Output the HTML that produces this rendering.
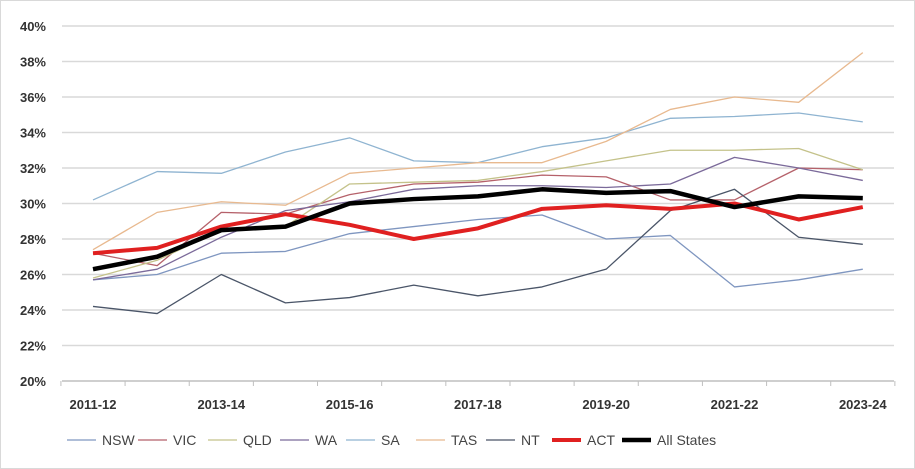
<!DOCTYPE html>
<html><head><meta charset="utf-8"><style>
body{margin:0;background:#fff;}
svg{display:block;font-family:"Liberation Sans",sans-serif;}
</style></head><body>
<svg id="chart" width="915" height="469" viewBox="0 0 915 469">
<rect x="0.5" y="0.5" width="914" height="468" fill="#fff" stroke="#d9d9d9"/>
<g id="grid"></g><g id="axes"></g><g id="series"></g><g id="legend"></g>
</svg>
<script>
const categories=["2011-12","2012-13","2013-14","2014-15","2015-16","2016-17","2017-18","2018-19","2019-20","2020-21","2021-22","2022-23","2023-24"];
const yTicks=[20,22,24,26,28,30,32,34,36,38,40];
const nsw=[25.7,26.0,27.2,27.3,28.3,28.7,29.1,29.35,28.0,28.2,25.3,25.7,26.3];
const vic=[27.2,26.5,29.5,29.4,30.5,31.1,31.2,31.6,31.5,30.2,30.2,32.0,31.9];
const qld=[25.8,26.8,28.5,28.7,31.1,31.2,31.3,31.8,32.4,33.0,33.0,33.1,31.9];
const wa=[25.7,26.3,28.1,29.6,30.1,30.8,31.0,31.0,30.9,31.1,32.6,32.0,31.3];
const sa=[30.2,31.8,31.7,32.9,33.7,32.4,32.3,33.2,33.7,34.8,34.9,35.1,34.6];
const tas=[27.4,29.5,30.1,29.9,31.7,32.0,32.3,32.3,33.5,35.3,36.0,35.7,38.5];
const nt=[24.2,23.8,26.0,24.4,24.7,25.4,24.8,25.3,26.3,29.6,30.8,28.1,27.7];
const act=[27.2,27.5,28.7,29.4,28.8,28.0,28.6,29.7,29.9,29.7,30.0,29.1,29.8];
const allStates=[26.3,27.0,28.5,28.7,30.0,30.25,30.4,30.8,30.6,30.7,29.8,30.4,30.3];

const NS="http://www.w3.org/2000/svg";
const X0=93,XSTEP=64.15,Y0=381,YTOP=26,VMIN=20,VMAX=40,AXL=62,AXR=894;
const x=i=>X0+i*XSTEP;
const y=v=>Y0-(v-VMIN)/(VMAX-VMIN)*(Y0-YTOP);
function mk(tag,attrs,parent){const e=document.createElementNS(NS,tag);for(const k in attrs)e.setAttribute(k,attrs[k]);parent.appendChild(e);return e;}
const grid=document.getElementById('grid'),axes=document.getElementById('axes'),ser=document.getElementById('series'),leg=document.getElementById('legend');
yTicks.forEach(t=>{
  if(t!==VMIN){const l=mk('line',{x1:AXL,x2:AXR,y1:y(t),y2:y(t),stroke:'#d9d9d9','stroke-width':1.5},grid);
  
  }
  const tx=mk('text',{x:46,y:y(t)+5,'text-anchor':'end','font-size':13,'font-weight':'bold',fill:'#333'},axes);
  tx.textContent=t+'%';
  
  
});
const ax=mk('line',{x1:AXL,x2:AXR,y1:Y0,y2:Y0,stroke:'#bfbfbf','stroke-width':1.5},axes);


for(let i=0;i<=categories.length;i++){const xx=X0-XSTEP/2+i*XSTEP;const tk=mk('line',{x1:xx,x2:xx,y1:Y0,y2:Y0+5,stroke:'#bfbfbf'},axes);
  
  }
categories.forEach((c,i)=>{if(i%2)return;
  const tx=mk('text',{x:x(i),y:409,'text-anchor':'middle','font-size':13,'font-weight':'bold',fill:'#333'},axes);
  tx.textContent=c;
  
  
});
const series=[["NSW",nsw,"#7f96c0",1.3],["VIC",vic,"#b5616a",1.3],["QLD",qld,"#c4c28a",1.3],["WA",wa,"#7b6a9a",1.3],["SA",sa,"#8fb4d1",1.3],["TAS",tas,"#e8b98f",1.3],["NT",nt,"#4a5568",1.3],["ACT",act,"#e02020",4],["All States",allStates,"#000",4.5]];
const legX=[67,138,208,280,346,416,486,552,622];
series.forEach((s,k)=>{
  const p=mk('polyline',{points:s[1].map((v,i)=>x(i)+','+y(v)).join(' '),fill:'none',stroke:s[2],'stroke-width':s[3],'stroke-linejoin':'round'},ser);
  
  
  const g=mk('g',{},leg);
  
  
  mk('line',{x1:legX[k],x2:legX[k]+29,y1:440,y2:440,stroke:s[2],'stroke-width':s[3]},g);
  const t=mk('text',{x:legX[k]+35,y:445,'font-size':14,fill:'#444'},g);
  t.textContent=s[0];
});
</script>
</body></html>
